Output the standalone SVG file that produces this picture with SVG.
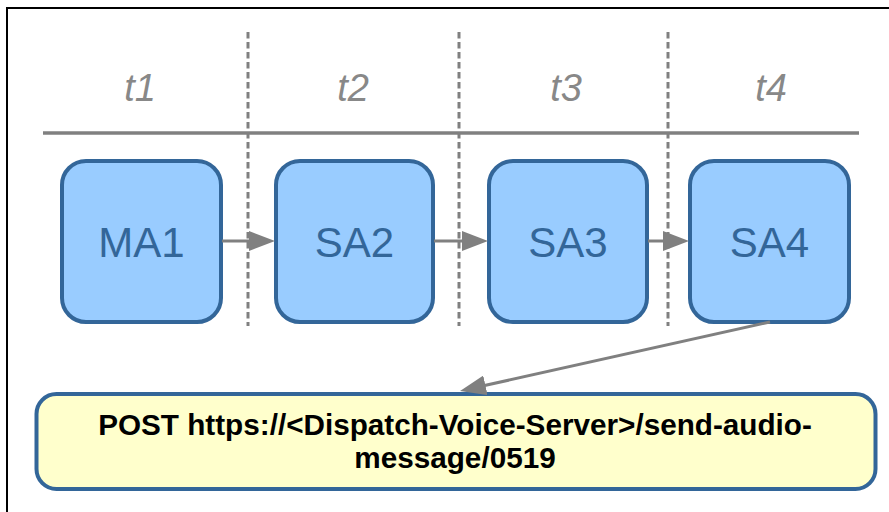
<svg xmlns="http://www.w3.org/2000/svg" width="889" height="512" viewBox="0 0 889 512">
<style>
.frame{stroke:#000;stroke-width:2;fill:none}
.sep{stroke:#808080;stroke-width:3;stroke-dasharray:6.5 3.5;fill:none}
.tl{stroke:#808080;stroke-width:3.5;fill:none}
.tlabel{font-family:"Liberation Sans",Arial,sans-serif;font-style:italic;font-size:38px;fill:#888888;text-anchor:middle}
.node rect{fill:#99ccff;stroke:#336699;stroke-width:4}
.node text{font-family:"Liberation Sans",Arial,sans-serif;font-size:42px;fill:#336699;text-anchor:middle}
.conn line{stroke:#808080;stroke-width:3;marker-end:url(#ah)}
.req rect{fill:#ffffcc;stroke:#336699;stroke-width:4}
.req text{font-family:"Liberation Sans",Arial,sans-serif;font-weight:bold;font-size:29.7px;fill:#000;text-anchor:middle}
</style>
<defs>
<marker id="ah" markerWidth="26" markerHeight="20" refX="16" refY="10" orient="auto" markerUnits="userSpaceOnUse">
<path d="M0,0 L26,10 L0,20 z" fill="#808080"/>
</marker>
</defs>
<rect width="889" height="512" fill="#fff"/>
<path class="frame" d="M7,512 V8 H889"/>
<g id="timeline">
<line class="tl" x1="43" y1="133" x2="859" y2="133"/>
<line class="sep" x1="248" y1="32" x2="248" y2="326"/>
<line class="sep" x1="459" y1="32" x2="459" y2="326"/>
<line class="sep" x1="668" y1="32" x2="668" y2="326"/>
<text class="tlabel" x="140" y="101">t1</text>
<text class="tlabel" x="353" y="101">t2</text>
<text class="tlabel" x="566" y="101">t3</text>
<text class="tlabel" x="771" y="101">t4</text>
</g>
<g id="MA1" class="node"><rect x="62" y="161" width="159" height="161" rx="24"/><text x="141.5" y="257">MA1</text></g>
<g id="SA2" class="node"><rect x="276" y="161" width="157" height="161" rx="24"/><text x="354.5" y="257">SA2</text></g>
<g id="SA3" class="node"><rect x="489" y="161" width="158" height="161" rx="24"/><text x="568" y="257">SA3</text></g>
<g id="SA4" class="node"><rect x="690" y="161" width="159" height="161" rx="24"/><text x="769.5" y="257">SA4</text></g>
<g id="request" class="req"><rect x="36.5" y="394" width="839" height="95" rx="20"/>
<text x="455" y="435">POST https://&lt;Dispatch-Voice-Server&gt;/send-audio-</text>
<text x="455" y="468">message/0519</text></g>
<g id="connectors" class="conn">
<line x1="222" y1="241" x2="265" y2="241"/>
<line x1="434" y1="241" x2="478" y2="241"/>
<line x1="648" y1="241" x2="679" y2="241"/>
<line x1="770" y1="322" x2="469.8" y2="388.8"/>
</g>
</svg>
